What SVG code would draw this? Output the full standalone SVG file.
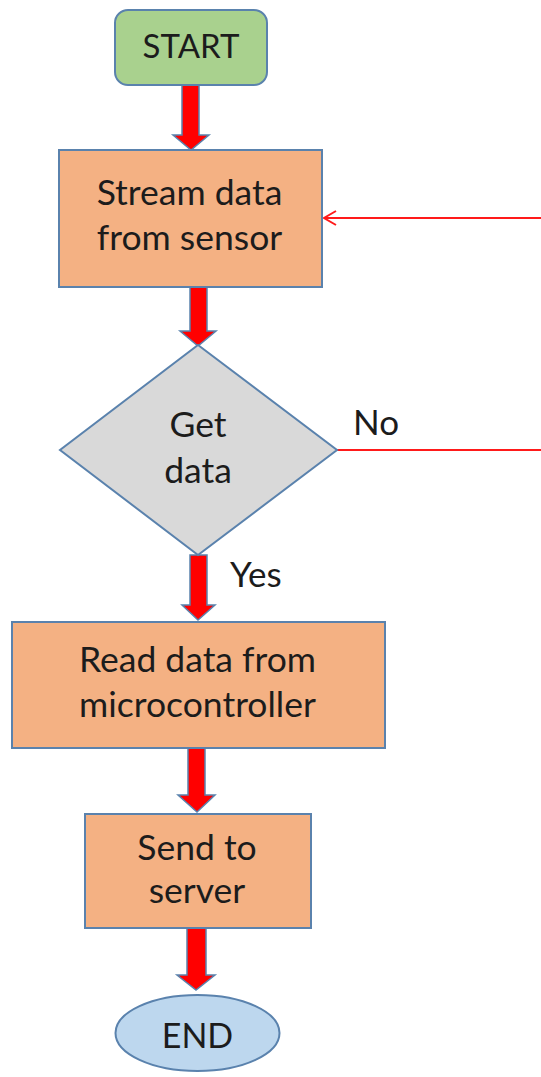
<svg xmlns="http://www.w3.org/2000/svg" width="541" height="1077" viewBox="0 0 541 1077">
  <style>
    .lbl { font-family: Lato, "Open Sans", "Liberation Sans", sans-serif; font-size: 35.5px; fill: #1c1c1c; text-anchor: middle; }
    .cap { font-size: 33px; }
    .side { font-family: Lato, "Open Sans", "Liberation Sans", sans-serif; font-size: 35px; fill: #1c1c1c; }
    .box { fill: #f4b183; stroke: #5a82ad; stroke-width: 2; }
    .flow { fill: #ff0000; stroke: #5a82ad; stroke-width: 1.5; stroke-linejoin: miter; }
    .loop { fill: none; stroke: #ff1a1a; stroke-width: 2; }
  </style>

  <rect width="541" height="1077" fill="#ffffff"/>

  <!-- connectors -->
  <g id="connectors">
    <!-- block arrows between steps -->
    <polygon class="flow" points="182,85 199,85 199,135 209,135 191,150 173,135 182,135"/>
    <polygon class="flow" points="190,287 207,287 207,331 216,331 198,346 180,331 190,331"/>
    <polygon class="flow" points="190,555 207,555 207,605 215,605 198,620 182,605 190,605"/>
    <polygon class="flow" points="188,748 205,748 205,795 215,795 197,812 178,795 188,795"/>
    <polygon class="flow" points="187,928 206,928 206,975 215,975 196,990 177,975 187,975"/>
    <!-- "No" branch loops back to streaming -->
    <line class="loop" x1="337" y1="450" x2="541" y2="450"/>
    <line class="loop" x1="541" y1="218" x2="324" y2="218"/>
    <path class="loop" d="M336,211 L324,218 L336,225" stroke-width="2.2"/>
  </g>

  <g id="start">
    <rect x="115" y="10" width="152" height="75" rx="13" ry="13" fill="#a9d18e" stroke="#5a82ad" stroke-width="2"/>
    <text class="lbl cap" x="191" y="58">START</text>
  </g>

  <g id="stream">
    <rect class="box" x="59" y="150" width="263" height="137"/>
    <text class="lbl" x="189.5" y="205">Stream data</text>
    <text class="lbl" x="189.5" y="250">from sensor</text>
  </g>

  <g id="decision">
    <polygon points="198,345 337,450 198,555 60,450" fill="#d9d9d9" stroke="#5a82ad" stroke-width="2"/>
    <text class="lbl" x="198" y="437">Get</text>
    <text class="lbl" x="198" y="483">data</text>
    <text class="side" x="353" y="435">No</text>
    <text class="side" x="230" y="587">Yes</text>
  </g>

  <g id="read">
    <rect class="box" x="12" y="622" width="373" height="126"/>
    <text class="lbl" x="197.5" y="672">Read data from</text>
    <text class="lbl" x="197.5" y="717">microcontroller</text>
  </g>

  <g id="send">
    <rect class="box" x="85" y="814" width="226" height="114"/>
    <text class="lbl" x="197" y="860">Send to</text>
    <text class="lbl" x="197" y="903">server</text>
  </g>

  <g id="end">
    <ellipse cx="197.5" cy="1033" rx="82" ry="38" fill="#bdd7ee" stroke="#5a82ad" stroke-width="2"/>
    <text class="lbl" x="197.5" y="1048" style="font-size:34px">END</text>
  </g>
</svg>
